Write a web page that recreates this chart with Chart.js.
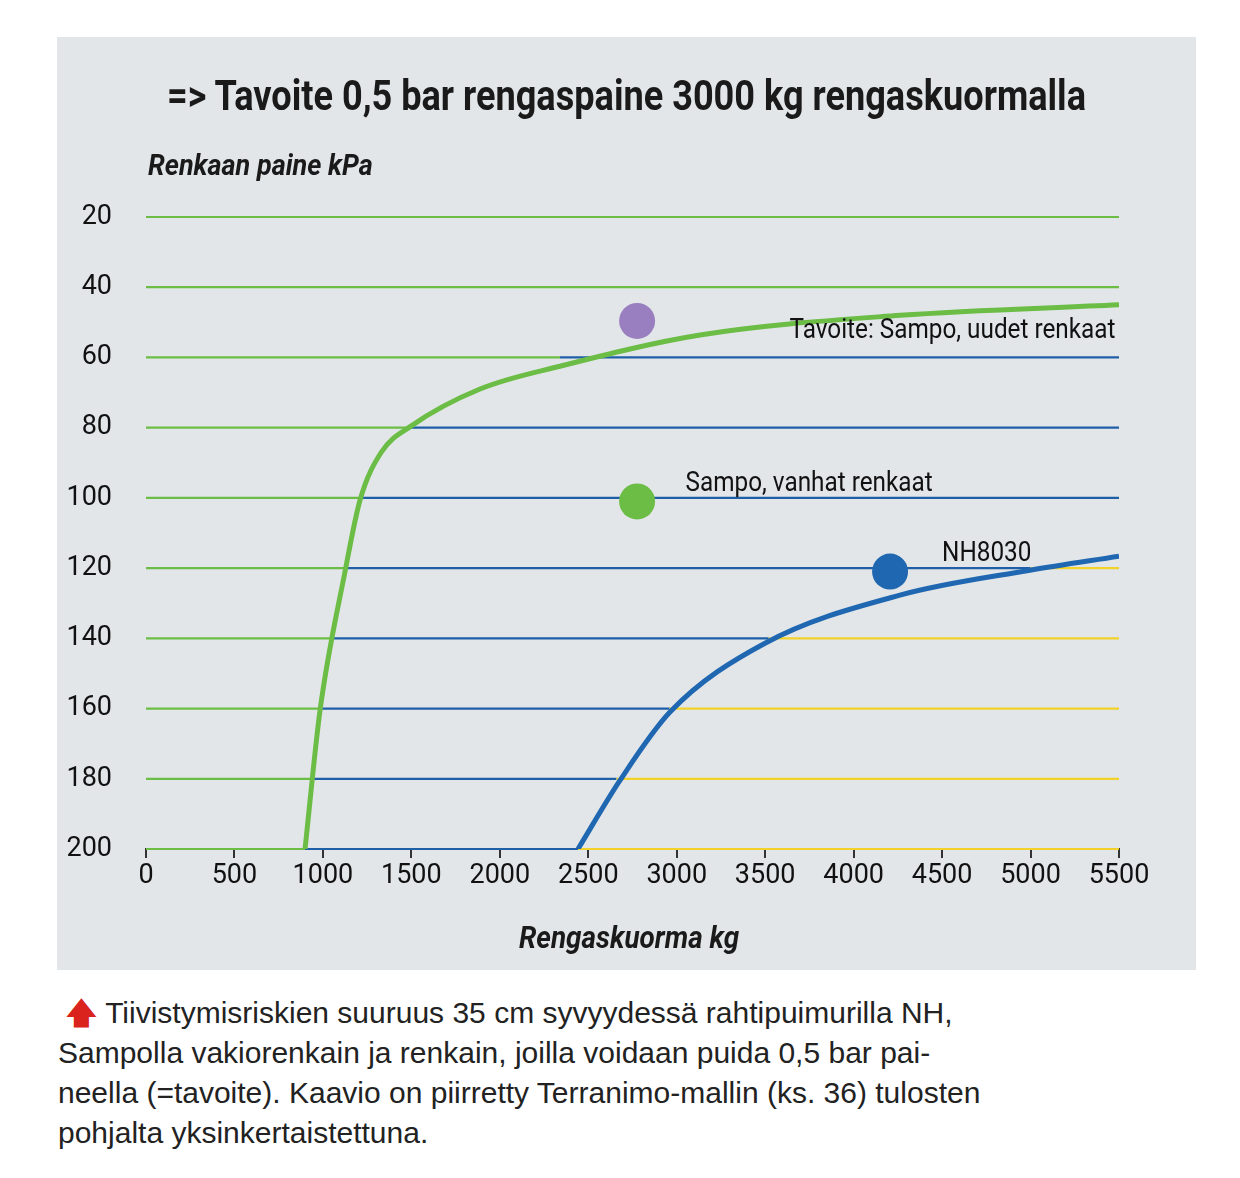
<!DOCTYPE html>
<html><head><meta charset="utf-8">
<script src="https://cdn.jsdelivr.net/npm/chart.js@4/dist/chart.umd.min.js"></script>
<style>
body{margin:0;background:#fff;width:1240px;height:1178px;position:relative;font-family:Roboto,sans-serif}
#panel{position:absolute;left:57px;top:37px;width:1139px;height:933px;background:#e2e6e9}
#title{position:absolute;left:0;width:1139px;top:34px;text-align:center;font-weight:bold;font-size:42px;color:#1a1a1a;white-space:nowrap;transform:scaleX(0.86);transform-origin:center}
#ytitle{position:absolute;left:91px;top:110px;font-weight:bold;font-style:italic;font-size:30px;color:#1a1a1a;transform:scaleX(0.9);transform-origin:left}
#xtitle{position:absolute;left:462px;top:882px;font-weight:bold;font-style:italic;font-size:31px;color:#1a1a1a;transform:scaleX(0.9);transform-origin:left}
#wrap{position:absolute;left:0;top:0;width:1139px;height:933px}
#cap{position:absolute;left:58px;top:993px;width:1180px;font-family:"Liberation Sans",Arial,sans-serif;font-size:30px;line-height:40px;color:#222;white-space:nowrap}
#cap .ar{color:#d9231c;font-weight:bold}
</style></head><body>
<div id="panel">
<div id="wrap"><canvas id="c"></canvas></div>
<div id="title">=&gt; Tavoite 0,5 bar rengaspaine 3000 kg rengaskuormalla</div>
<div id="ytitle">Renkaan paine kPa</div>
<div id="xtitle">Rengaskuorma kg</div>
</div>
<div id="cap">&nbsp;<span class="ar">🡅</span> Tiivistymisriskien suuruus 35 cm syvyydessä rahtipuimurilla NH,<br>Sampolla vakiorenkain ja renkain, joilla voidaan puida 0,5 bar pai-<br>neella (=tavoite). Kaavio on piirretty Terranimo-mallin (ks. 36) tulosten<br>pohjalta yksinkertaistettuna.</div>
<script>
const yTicks=[20,40,60,80,100,120,140,160,180,200];
const xTicks=[0,500,1000,1500,2000,2500,3000,3500,4000,4500,5000,5500];
const greenLoad=[899,984,1125,1210,1330,1500,1888,2340,3132,4262,5500];
const greenPress=[200,160.4,121,100.6,87,79.5,69,62.5,53.6,48,45];
const blueLoad=[2442,2680,2962,3499,4262,4997,5500];
const bluePress=[200,180.4,161,141.4,127.7,120.6,116.6];
const gridGreenEnd=[5500,5500,2340,1500,1210,1125,1040,984,945,899];
const gridBlueEnd=[5500,5500,5500,5500,5500,5000,3520,2960,2660,2442];
const dots=[{x:2776,y:49.6,c:'#9a7fc0'},{x:2776,y:101,c:'#6cbd45'},{x:4206,y:121,c:'#1f67b1'}];
const labels=[{t:'Tavoite: Sampo, uudet renkaat',x:5480,y:52.5,a:'right'},{t:'Sampo, vanhat renkaat',x:3050,y:96,a:'left'},{t:'NH8030',x:4500,y:116,a:'left'}];
const F='Roboto,sans-serif';
const gridPlugin={id:'grid',beforeDatasetsDraw(ch){
 const {ctx,scales:{x,y}}=ch;ctx.save();ctx.lineWidth=2.2;
 yTicks.forEach((t,i)=>{const py=y.getPixelForValue(t);
  const seg=(a,b,c)=>{if(b<=a)return;ctx.strokeStyle=c;ctx.beginPath();ctx.moveTo(x.getPixelForValue(a),py);ctx.lineTo(x.getPixelForValue(b),py);ctx.stroke();};
  seg(0,gridGreenEnd[i],'#6cbd45');seg(gridGreenEnd[i],gridBlueEnd[i],'#1f5fa8');seg(gridBlueEnd[i],5500,'#f2d22a');});
 ctx.restore();},
 afterDatasetsDraw(ch){const {ctx,scales:{x,y}}=ch;ctx.save();ctx.fillStyle='#111';ctx.font='27px '+F;ctx.textBaseline='middle';
 labels.forEach(l=>{const px=x.getPixelForValue(l.x),py=y.getPixelForValue(l.y);ctx.save();ctx.translate(px,py);ctx.scale(0.9,1);ctx.textAlign=l.a;ctx.fillText(l.t,0,0);ctx.restore();});ctx.restore();}};
new Chart(document.getElementById('c'),{type:'scatter',
 data:{datasets:[
  {type:'line',data:greenLoad.map((v,i)=>({x:v,y:greenPress[i]})),borderColor:'#6cbd45',borderWidth:5,pointRadius:0,cubicInterpolationMode:'monotone'},
  {type:'line',data:blueLoad.map((v,i)=>({x:v,y:bluePress[i]})),borderColor:'#1f67b1',borderWidth:5,pointRadius:0,cubicInterpolationMode:'monotone'},
  {data:dots.map(d=>({x:d.x,y:d.y})),backgroundColor:dots.map(d=>d.c),borderWidth:0,pointRadius:18}
 ]},
 options:{responsive:true,maintainAspectRatio:false,animation:false,
  layout:{padding:{left:0,top:180,right:77,bottom:0}},
  plugins:{legend:{display:false},tooltip:{enabled:false}},
  scales:{
   x:{type:'linear',min:0,max:5500,afterBuildTicks:s=>{s.ticks=xTicks.map(v=>({value:v}));},
    afterFit:s=>{s.height=121;},border:{display:true,color:'#333',width:2},
    grid:{drawOnChartArea:false,color:'#333',tickLength:9,lineWidth:2},
    ticks:{color:'#111',font:{family:F,size:27},padding:2,maxRotation:0,callback:v=>String(v)}},
   y:{type:'linear',reverse:true,min:20,max:200,afterBuildTicks:s=>{s.ticks=yTicks.map(v=>({value:v}));},
    afterFit:s=>{s.width=89;},border:{display:false},grid:{display:false},
    ticks:{color:'#111',font:{family:F,size:27},padding:26,callback:v=>String(v)}}
  }},
 plugins:[gridPlugin]});
</script>
</body></html>
